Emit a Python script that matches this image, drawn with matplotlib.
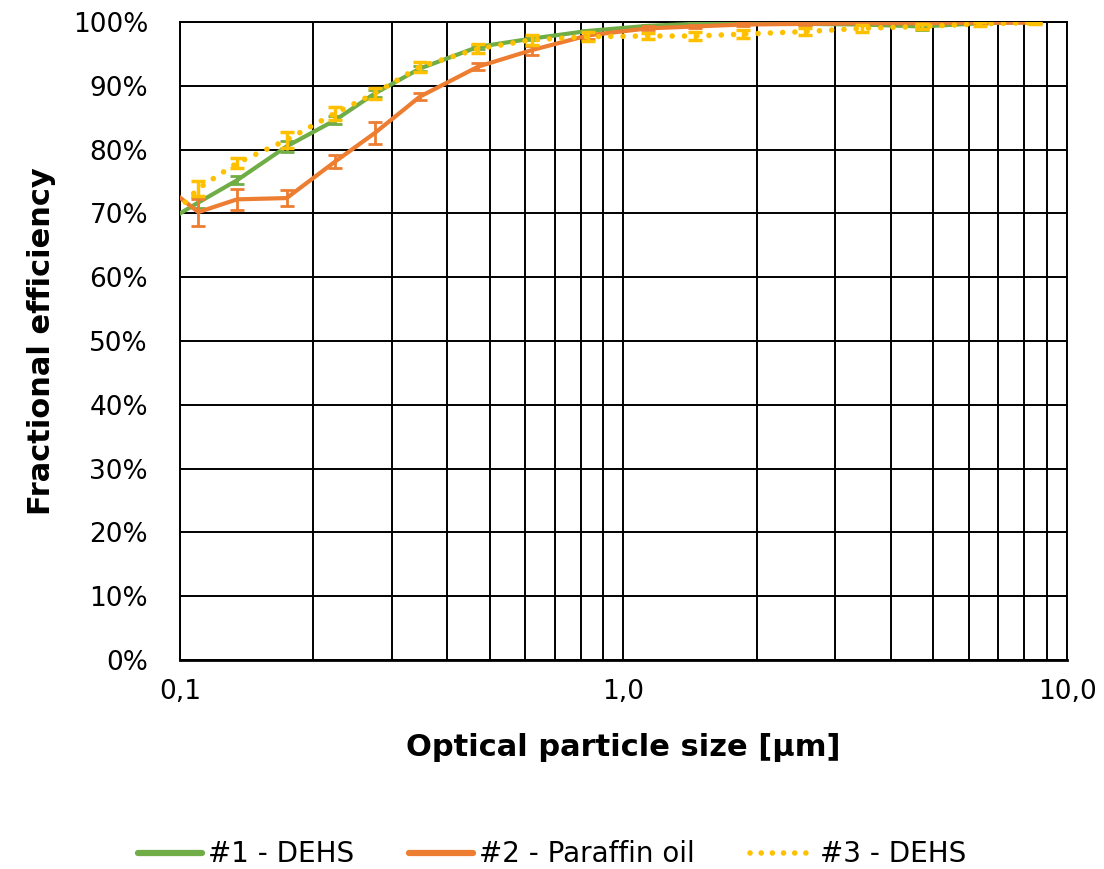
import matplotlib.pyplot as plt
import numpy as np
from matplotlib.lines import Line2D
from matplotlib.ticker import FixedLocator, NullFormatter, LogLocator

# particle size channels [um]
size = [0.09, 0.110, 0.1345, 0.174, 0.2236, 0.275, 0.3475, 0.47, 0.622,
        0.832, 1.136, 1.45, 1.86, 2.56, 3.45, 4.71, 6.37, 8.47]

# fractional efficiency [%] and error
eff_1 = [68.1, 71.7, 75.2, 80.5, 84.6, 88.8, 92.7, 96.1, 97.4,
         98.6, 99.4, 99.7, 99.8, 99.7, 99.6, 99.3, 99.8, 100.0]
err_1 = [0.5, 0.8, 0.6, 0.8, 0.6, 0.5, 0.4, 0.3, 0.3,
         0.2, 0.2, 0.1, 0.1, 0.1, 0.1, 0.5, 0.1, 0.1]

eff_2 = [75.0, 70.2, 72.2, 72.4, 78.1, 82.6, 88.3, 93.0, 95.6,
         97.9, 99.0, 99.3, 99.6, 99.7, 99.8, 99.8, 99.9, 99.9]
err_2 = [0.5, 2.1, 1.6, 1.2, 1.0, 1.8, 0.5, 0.6, 0.7,
         0.5, 0.3, 0.2, 0.2, 0.1, 0.1, 0.1, 0.1, 0.1]

eff_3 = [67.6, 73.9, 77.9, 81.5, 85.7, 88.8, 93.0, 95.8, 97.2,
         97.7, 97.8, 97.8, 98.1, 98.5, 99.0, 99.3, 99.7, 99.9]
err_3 = [0.5, 1.2, 0.8, 1.3, 1.0, 0.9, 0.8, 0.7, 0.8,
         0.7, 0.5, 0.7, 0.6, 0.5, 0.5, 0.35, 0.3, 0.2]

labels = ['#1 - DEHS', '#2 - Paraffin oil', '#3 - DEHS']
colors = ['#70AD47', '#ED7D31', '#FFC000']

xticks = [0.1, 1.0, 10.0]
xtick_labels = ['0,1', '1,0', '10,0']
yticks = np.arange(0, 101, 10)

dotted = (0, (0.01, 2.2))

fig = plt.figure(figsize=(11.04, 8.69), dpi=100)
ax = fig.add_axes([0.163, 0.2405, 0.8035, 0.7342])

ax.errorbar(size, eff_1, yerr=err_1, color=colors[0], lw=3, elinewidth=2,
            capsize=5, capthick=2, zorder=3)
ax.errorbar(size, eff_2, yerr=err_2, color=colors[1], lw=3, elinewidth=2,
            capsize=5, capthick=2, zorder=4)
ax.errorbar(size, eff_3, yerr=err_3, color=colors[2], lw=4, elinewidth=2.5,
            capsize=5, capthick=2.5, zorder=5,
            linestyle=dotted, dash_capstyle='round')

ax.set_xscale('log')
ax.set_xlim(0.1, 10)
ax.set_ylim(0, 100)
ax.xaxis.set_major_locator(FixedLocator(xticks))
ax.set_xticklabels(xtick_labels)
ax.xaxis.set_minor_locator(LogLocator(base=10, subs=np.arange(2, 10)))
ax.xaxis.set_minor_formatter(NullFormatter())
ax.set_yticks(yticks)
ax.set_yticklabels([f'{v}%' for v in yticks])

ax.grid(True, which='major', color='black', lw=1.4, zorder=0)
ax.grid(True, which='minor', axis='x', color='black', lw=1.4, zorder=0)
ax.tick_params(which='both', length=0, labelsize=19)
ax.tick_params(axis='x', pad=14)
ax.tick_params(axis='y', pad=23)
for s in ax.spines.values():
    s.set_color('black')
    s.set_linewidth(1.4)
ax.spines['bottom'].set_linewidth(2)

ax.set_xlabel('Optical particle size [µm]', fontsize=22, fontweight='bold', labelpad=20)
ax.set_ylabel('Fractional efficiency', fontsize=22, fontweight='bold', labelpad=12)

handles = [
    Line2D([], [], color=colors[0], lw=4.5, solid_capstyle='round'),
    Line2D([], [], color=colors[1], lw=4.5, solid_capstyle='round'),
    Line2D([], [], color=colors[2], lw=4, linestyle=(0, (0.01, 2.0)),
           dash_capstyle='round'),
]
fig.legend(handles, labels, loc='lower center', bbox_to_anchor=(0.5, -0.028),
           ncol=3, frameon=False, fontsize=20, handlelength=2.3,
           columnspacing=2.0, handletextpad=0.2)

fig.savefig('out.png', dpi=100)
